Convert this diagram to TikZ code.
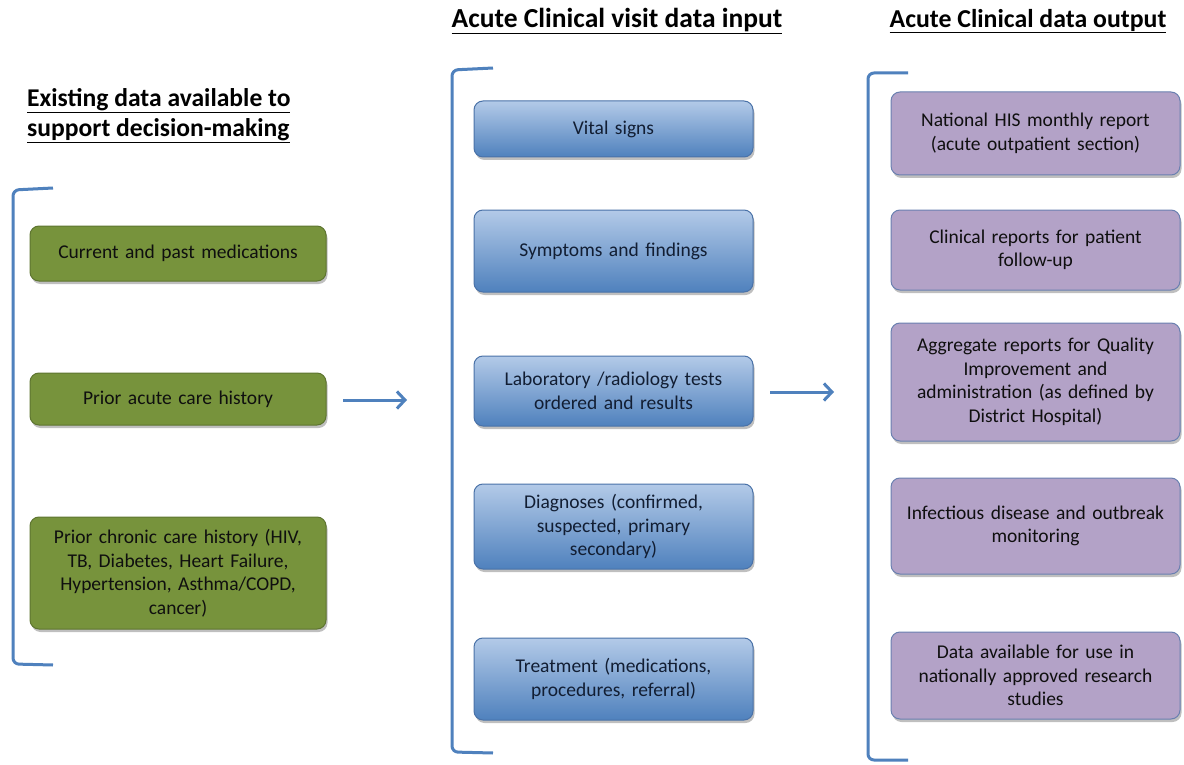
\documentclass[tikz,border=0pt]{standalone}
\usepackage{fontspec}
\setmainfont{Carlito}
\usetikzlibrary{arrows.meta,shadows}
\definecolor{brk}{HTML}{4F81BD}
\definecolor{grnfill}{HTML}{77933C}
\definecolor{grnline}{HTML}{5E7530}
\definecolor{blutop}{HTML}{B3CAE8}
\definecolor{blubot}{HTML}{4F81BD}
\definecolor{bluline}{HTML}{4A72A8}
\definecolor{purfill}{HTML}{B3A2C7}
\definecolor{purline}{HTML}{6A80B0}
\definecolor{txt}{HTML}{0F0F0F}
\definecolor{bltxt}{HTML}{121E33}
\tikzset{
  x=1pt, y=-1pt,
  basebox/.style={rounded corners=9pt, line width=1pt, align=center,
    font=\fontsize{19.5}{23.5}\selectfont, inner sep=2pt,
    drop shadow={shadow xshift=1.5pt, shadow yshift=-3pt, opacity=0.25, fill=black}},
  greenbox/.style={basebox, fill=grnfill, draw=grnline, text=txt,
    minimum width=296pt, text width=284pt},
  bluebox/.style={basebox, top color=blutop, bottom color=blubot, draw=bluline, text=bltxt,
    minimum width=279pt, text width=268pt},
  purplebox/.style={basebox, fill=purfill, draw=purline, text=txt,
    minimum width=289pt, text width=280pt},
  bracket/.style={draw=brk, line width=3pt, rounded corners=6pt},
  flow/.style={draw=brk, line width=3pt, -{Straight Barb[length=8pt,width=17pt,line width=3pt]}},
  heading/.style={text=black, inner sep=0pt}
}
\begin{document}
\begin{tikzpicture}
\useasboundingbox (0,0) rectangle (1184,765);
\fill[white] (0,0) rectangle (1184,765);

% column headings
\node[heading, font=\fontsize{25.6}{30.5}\selectfont\bfseries, align=left, anchor=north west] (hleft) at (27,88)
  {\underline{Existing data available to}\\\underline{support decision-making}};
\node[heading, font=\fontsize{27.5}{30}\selectfont\bfseries] (hmid) at (617,21) {\underline{Acute Clinical visit data input}};
\node[heading, font=\fontsize{25.8}{30}\selectfont\bfseries] (hright) at (1028,21) {\underline{Acute Clinical data output}};

% brackets grouping each column
\draw[bracket] (53,188) -- (13,190) -- (13,664) -- (53,665);
\draw[bracket] (493,68) -- (452,70) -- (452,752) -- (493,753);
\draw[bracket] (908,73) -- (868,73) -- (868,760) -- (908,760);

% existing data
\node[greenbox, minimum height=55pt] (g1) at (178,253.5) {Current and past medications};
\node[greenbox, minimum height=52pt] (g2) at (178,399) {Prior acute care history};
\node[greenbox, minimum height=112pt] (g3) at (178,573)
  {Prior chronic care history (HIV,\\TB, Diabetes, Heart Failure,\\Hypertension, Asthma/COPD,\\cancer)};

% visit data input
\node[bluebox, minimum height=56pt] (b1) at (613.5,129) {Vital signs};
\node[bluebox, minimum height=82pt] (b2) at (613.5,251) {Symptoms and findings};
\node[bluebox, minimum height=70pt] (b3) at (613.5,391) {Laboratory /radiology tests\\ordered and results};
\node[bluebox, minimum height=85pt] (b4) at (613.5,526.5) {Diagnoses (confirmed,\\suspected, primary\\secondary)};
\node[bluebox, minimum height=82pt] (b5) at (613.5,679) {Treatment (medications,\\procedures, referral)};

% data output
\node[purplebox, minimum height=83pt] (p1) at (1035.5,133.5) {National HIS monthly report\\(acute outpatient section)};
\node[purplebox, minimum height=80pt] (p2) at (1035.5,250) {Clinical reports for patient\\follow-up};
\node[purplebox, minimum height=118pt] (p3) at (1035.5,382)
  {Aggregate reports for Quality\\Improvement and\\administration (as defined by\\District Hospital)};
\node[purplebox, minimum height=96pt] (p4) at (1035.5,526) {Infectious disease and outbreak\\monitoring};
\node[purplebox, minimum height=87pt] (p5) at (1035.5,675.5)
  {Data available for use in\\nationally approved research\\studies};

% flow arrows between columns
\coordinate (a1s) at (343,400);
\coordinate (a1e) at (407,400);
\coordinate (a2s) at (770,392);
\coordinate (a2e) at (834,392);
\draw[flow] (a1s) -- (a1e);
\draw[flow] (a2s) -- (a2e);
\end{tikzpicture}
\end{document}
